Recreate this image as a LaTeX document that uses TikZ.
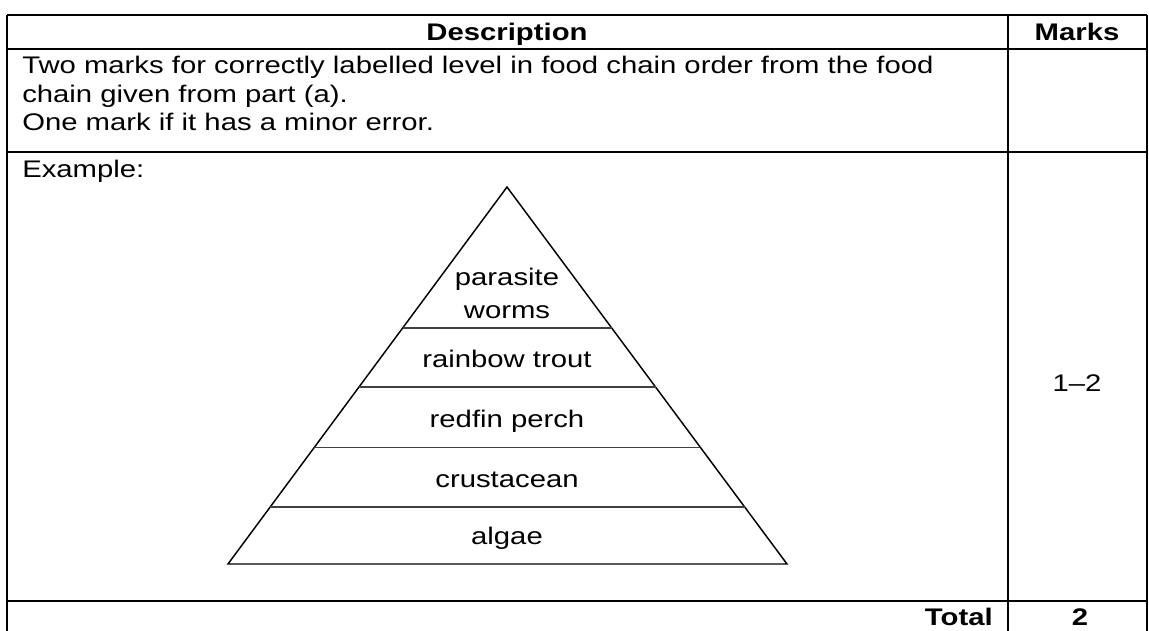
\documentclass[tikz,border=0pt]{standalone}
\usepackage{fontspec}
\setmainfont{Liberation Sans}[FakeStretch=1.22]
\usetikzlibrary{calc}
\begin{document}
\begin{tikzpicture}[x=0.75pt,y=-0.75pt,
  tbl/.style={line width=1.7pt},
  pyr/.style={line width=1.1pt, line join=miter},
  divl/.style={line width=0.9pt, draw=black!75},
  txt/.style={inner sep=0pt, font=\fontsize{18}{21.4}\selectfont},
  btxt/.style={inner sep=0pt, font=\fontsize{18}{21.4}\selectfont\bfseries}]
\useasboundingbox (0,0) rectangle (1149,631);
\fill[white] (0,0) rectangle (1149,631);
\begin{scope}
\clip (0,0) rectangle (1149,631);
% table frame
\coordinate (tl) at (7,15);
\coordinate (tr) at (1147,15);
\coordinate (tm) at (1008,15);
\coordinate (bl0) at (7,640);
\coordinate (br0) at (1147,640);
\coordinate (bm) at (1008,640);
\draw[tbl] (tl) -- (tr);
\draw[tbl] (tl) -- (bl0);
\draw[tbl] (tr) -- (br0);
\draw[tbl] (tm) -- (bm);
\coordinate (h1l) at (7,49);   \coordinate (h1r) at (1147,49);
\coordinate (h2l) at (7,152);  \coordinate (h2r) at (1147,152);
\coordinate (h3l) at (7,601);  \coordinate (h3r) at (1147,601);
\draw[tbl] (h1l) -- (h1r);
\draw[tbl] (h2l) -- (h2r);
\draw[tbl] (h3l) -- (h3r);
% header
\node[btxt, anchor=base] (desc) at (507,41) {Description};
\node[btxt, anchor=base] (marks) at (1077,41) {Marks};
% description text
\node[txt, anchor=base west] (l1) at (22,74) {Two marks for correctly labelled level in food chain order from the food};
\node[txt, anchor=base west] (l2) at (22,102.5) {chain given from part (a).};
\node[txt, anchor=base west] (l3) at (22,131) {One mark if it has a minor error.};
\node[txt, anchor=base west] (ex) at (22,178) {Example:};
% pyramid
\coordinate (apex) at (507,187);
\coordinate (pbl) at (228,564);
\coordinate (pbr) at (787,564);
\draw[pyr] (apex) -- (pbl) -- (pbr) -- cycle;
\foreach \t/\n in {0.374/a,0.5305/b,0.691/c,0.849/d}{
  \coordinate (L\n) at ($(apex)!\t!(pbl)$);
  \coordinate (R\n) at ($(apex)!\t!(pbr)$);
  \draw[divl] (L\n) -- (R\n);
}
\node[txt, anchor=base] (p1) at (507,285) {parasite};
\node[txt, anchor=base] (p2) at (507,318) {worms};
\node[txt, anchor=base] (p3) at (507,367) {rainbow trout};
\node[txt, anchor=base] (p4) at (507,427) {redfin perch};
\node[txt, anchor=base] (p5) at (507,487) {crustacean};
\node[txt, anchor=base] (p6) at (507,544) {algae};
% marks
\node[txt, anchor=base] (m1) at (1077,391) {1--2};
% total row
\node[btxt, anchor=base east] (tot) at (993,625) {Total};
\node[btxt, anchor=base] (two) at (1080,625) {2};
\end{scope}
\end{tikzpicture}
\end{document}
